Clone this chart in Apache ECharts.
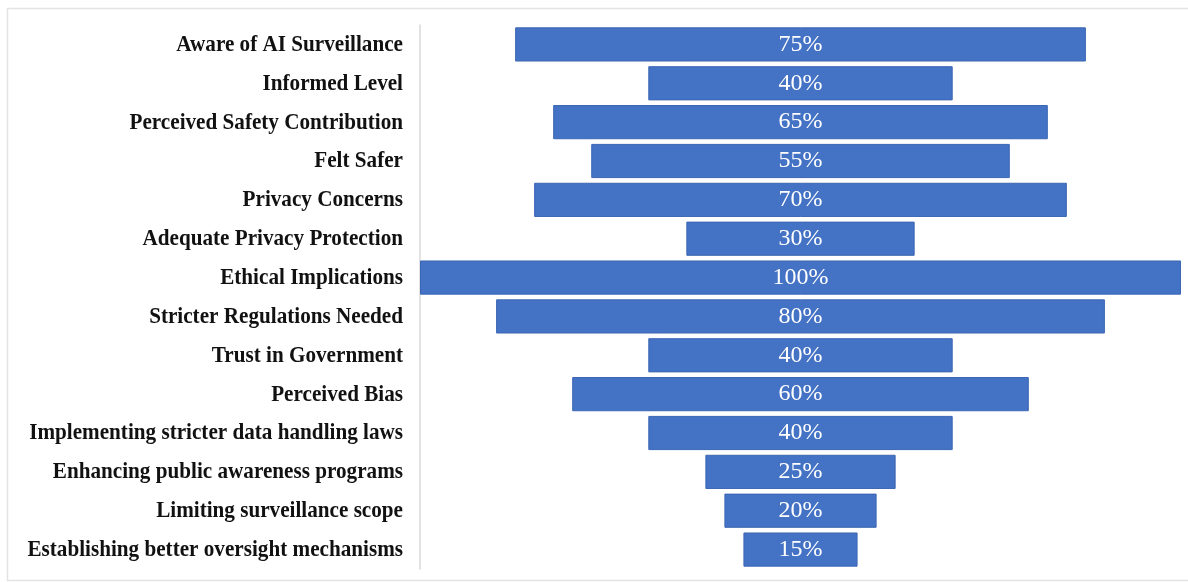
<!DOCTYPE html>
<html>
<head>
<meta charset="utf-8">
<script src="https://cdn.jsdelivr.net/npm/echarts@6/dist/echarts.min.js"></script>
<style>
html,body{margin:0;padding:0;background:#fff;}
#chart{width:1188px;height:582px;}
</style>
</head>
<body>
<div id="chart"></div>
<script>
const categories = [
  "Aware of AI Surveillance",
  "Informed Level",
  "Perceived Safety Contribution",
  "Felt Safer",
  "Privacy Concerns",
  "Adequate Privacy Protection",
  "Ethical Implications",
  "Stricter Regulations Needed",
  "Trust in Government",
  "Perceived Bias",
  "Implementing stricter data handling laws",
  "Enhancing public awareness programs",
  "Limiting surveillance scope",
  "Establishing better oversight mechanisms"
];
const values = [75, 40, 65, 55, 70, 30, 100, 80, 40, 60, 40, 25, 20, 15];
const axisMax = 100;

const offsets = values.map(v => (axisMax - v) / 2);

const chart = echarts.init(document.getElementById('chart'));
chart.setOption({
  animation: false,
  backgroundColor: '#ffffff',
  graphic: [{
    id: 'frame',
    type: 'rect',
    shape: {x: 7.5, y: 8.5, width: 1200, height: 572},
    style: {fill: 'none', stroke: '#e3e3e3', lineWidth: 1.5},
    silent: true
  }],
  grid: {left: 420, top: 25, width: 761, height: 544, containLabel: false},
  xAxis: {
    type: 'value', min: 0, max: axisMax, show: false
  },
  yAxis: {
    type: 'category',
    data: categories,
    inverse: true,
    axisLine: {show: true, lineStyle: {color: '#d9d9d9', width: 1.5}},
    axisTick: {show: false},
    axisLabel: {show: false}
  },
  series: [
    {
      type: 'bar', stack: 'f', data: offsets, silent: true,
      itemStyle: {color: 'transparent'}, barCategoryGap: '12%'
    },
    {
      type: 'bar', stack: 'f', data: values, barCategoryGap: '12%',
      itemStyle: {color: '#4472C4', borderColor: '#3b66b3', borderWidth: 1},
      label: {
        show: true, position: 'inside', color: '#fff',
        fontFamily: 'Liberation Serif', fontSize: 24,
        formatter: p => p.value + '%'
      }
    }
  ]
});

// Category labels: placed via the category axis scale, drawn horizontally condensed like the reference
const labelRight = 420 - 17;
const labelGraphics = categories.map((c, i) => ({
  id: 'lbl' + i,
  type: 'text',
  x: labelRight,
  y: chart.convertToPixel({yAxisIndex: 0}, c) + 0.5,
  scaleX: 0.92,
  silent: true,
  style: {
    text: c, x: 0, y: 0, align: 'right', verticalAlign: 'middle',
    fill: '#111', font: 'bold 23px "Liberation Serif"'
  }
}));
chart.setOption({graphic: labelGraphics});
</script>
</body>
</html>
